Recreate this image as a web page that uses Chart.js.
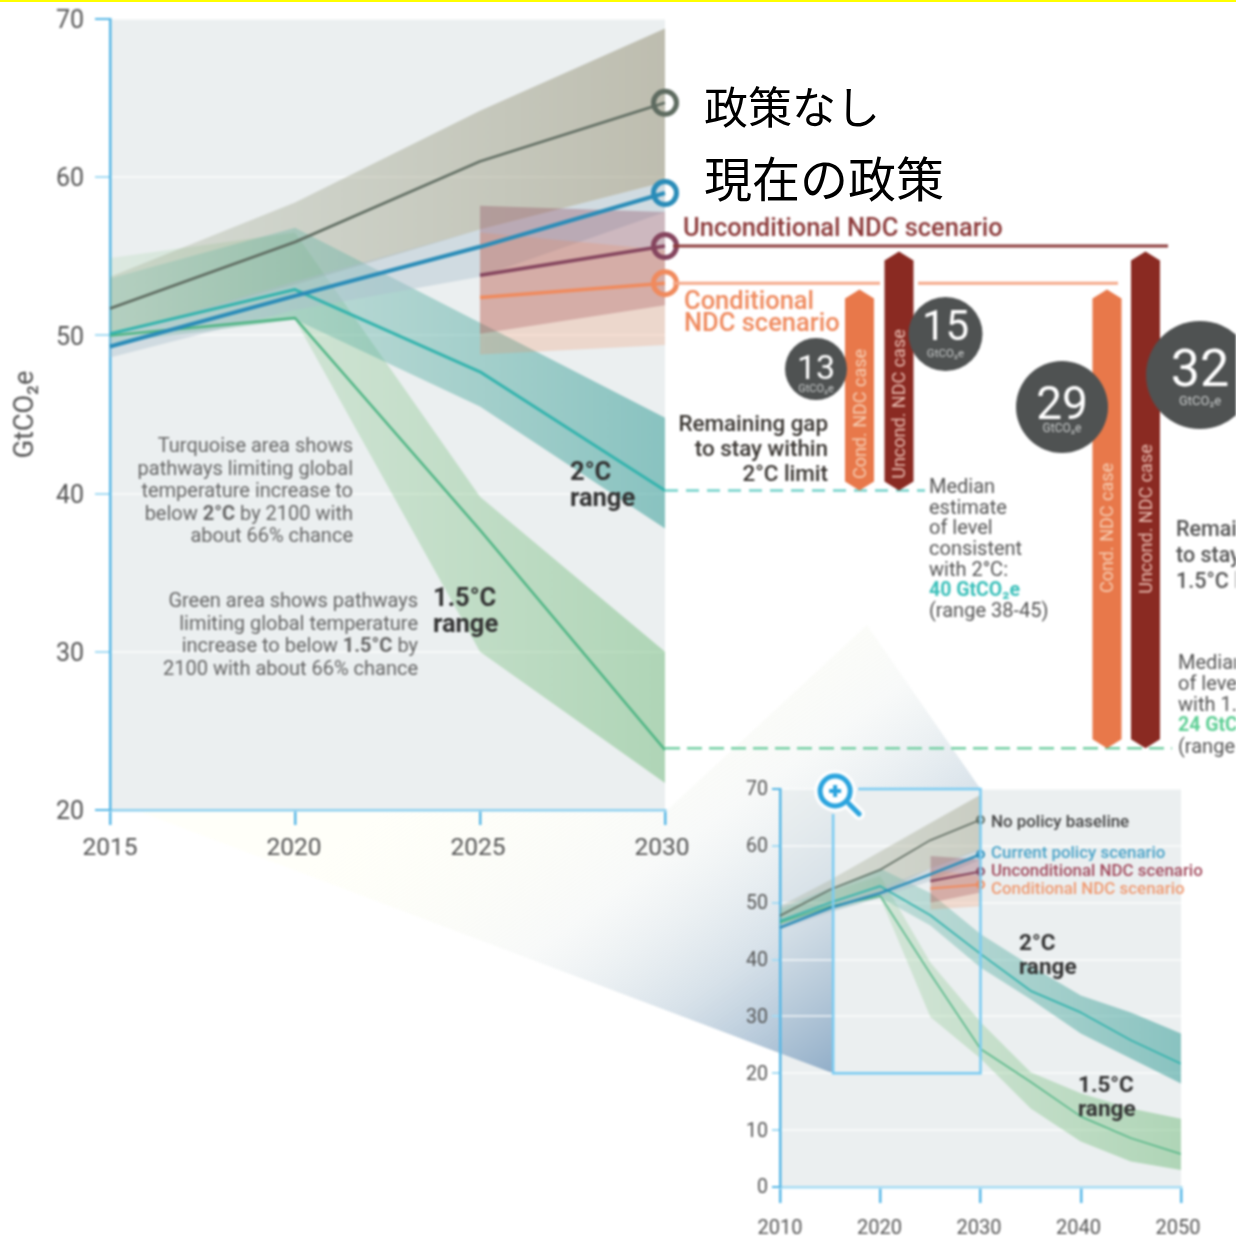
<!DOCTYPE html>
<html lang="en"><head><meta charset="utf-8">
<style>
html,body{margin:0;padding:0;background:#fff;width:1236px;height:1239px;overflow:hidden}
#stage{position:absolute;left:0;top:0;width:1236px;height:1239px;overflow:hidden;filter:blur(.95px);font-family:Roboto,sans-serif}
canvas{position:absolute;left:0;top:0}
.t{position:absolute;white-space:nowrap;line-height:1}
#topline{position:absolute;left:0;top:0;width:1236px;height:2px;background:#ffff00}
.jp{position:absolute;left:704px;white-space:nowrap;font-family:"Noto Sans CJK JP";color:#000;line-height:1;transform:translateY(-50%)}
</style>
<script src="https://cdn.jsdelivr.net/npm/chart.js@4/dist/chart.umd.min.js"></script>
</head><body>
<div id="stage">
<canvas id="inset" width="1236" height="1239"></canvas>
<canvas id="main" width="1236" height="1239"></canvas>
</div>
<div id="topline"></div>
<div class="jp" style="top:105px;font-size:44px">政策なし</div>
<div class="jp" style="top:176px;font-size:48px">現在の政策</div>
<script>
// ---------- main (zoomed) panel ----------
const mainYears=[2015,2020,2025,2030];
const ndcYears=[2025,2030];
const mainNoPolicy=[51.7,55.9,61,64.7];
const mainNoPolicyHi=[53.7,58.4,64.2,69.4];
const mainNoPolicyLo=[50,53.2,56.7,59.7];
const mainCurrent=[49.3,52.5,55.6,59];
const mainCurrentHi=[50,53.4,56.7,59.7];
const mainCurrentLo=[48.6,51.6,53.7,57.8];
const mainTeal=[50.1,52.9,47.7,40.2];
const mainTealHi=[53.6,56.8,50.8,44.8];
const mainTealLo=[49.5,51,45.5,37.8];
const mainGreen=[50,51.1,37.7,23.8];
const mainGreenHi=[54.9,56.5,39.8,30];
const mainGreenLo=[49.5,51,30,21.7];
const mainUncond=[53.8,55.65];
const mainUncondHi=[58.2,57.8];
const mainUncondLo=[50.1,51.9];
const mainCond=[52.4,53.3];
const mainCondHi=[56.5,55.4];
const mainCondLo=[48.8,49.4];
// ---------- gap annotations (GtCO2e levels) ----------
const level2C=40.2, level15C=23.9;
const barTopCond=52.9, barTopUncond=55.3;
// ---------- inset (full range) panel ----------
const insetYearsA=[2010,2015,2020,2025,2030];
const insetYearsB=[2010,2015,2020,2025,2030,2035,2040,2045,2050];
const insetNoPolicy=[47.7,52.3,55.8,61,64.6];
const insetNoPolicyHi=[49.4,54,59,64,69];
const insetNoPolicyLo=[46,49,51.5,56,59.3];
const insetCurrent=[45.6,49.1,51.7,55,58.5];
const insetCurrentHi=[46.2,49.8,52.6,56,59.6];
const insetCurrentLo=[45.2,48.3,50.9,53.8,57.6];
const insetTeal=[46.8,50,52.9,47.8,41,34.5,30.7,25.8,21.7];
const insetTealHi=[49,52.6,56,51.7,44.5,38.9,33.7,30.7,27];
const insetTealLo=[46,48.6,50.9,46,38.6,33,27,22.6,18.2];
const insetGreen=[46.5,49.4,51.2,37.5,24.3,18.5,12.4,8.6,5.8];
const insetGreenHi=[48.5,52,54.7,39.5,29,20.2,16.5,13.8,12];
const insetGreenLo=[46,48.6,50.9,29.9,22.6,13.8,8,4.5,3];
const insetUncond=[53.8,55.5];
const insetUncondHi=[58.2,57.6];
const insetUncondLo=[50,51.8];
const insetCond=[52.5,53.2];
const insetCondHi=[55.8,54.7];
const insetCondLo=[48.8,49.4];

const BLUE='#57b7e6', BLUE2='#a5dbf3', PLOT='#ebeff0', TICKTXT='#555';
const toXY=(xs,ys)=>xs.map((x,i)=>({x,y:ys[i]}));
function grad(c0,c1){return (ctx)=>{
  const ch=ctx.chart,s=ch.scales&&ch.scales.x;
  if(!s||!isFinite(s.left)||s.width<=0) return c1;
  const g=ch.ctx.createLinearGradient(s.left,0,s.right,0);
  g.addColorStop(0,c0);g.addColorStop(1,c1);return g;};}
function band(xs,hi,lo,color,order){return [
  {data:toXY(xs,hi),borderWidth:0,pointRadius:0,fill:'+1',backgroundColor:color,order},
  {data:toXY(xs,lo),borderWidth:0,pointRadius:0,fill:false,order}];}
function line(xs,ys,color,w,r,bw,order){const n=xs.length-1;return {
  data:toXY(xs,ys),borderColor:color,borderWidth:w,fill:false,clip:false,order,
  pointRadius:c=>c.dataIndex===n?r:0,pointBorderWidth:bw,pointBorderColor:color,
  pointBackgroundColor:'rgba(255,255,255,0)',pointHoverRadius:0};}
const plain=(xs,ys,color,w,order)=>({data:toXY(xs,ys),borderColor:color,borderWidth:w,pointRadius:0,fill:false,order});

const C={
 gray:grad('rgba(150,160,130,.25)','rgba(150,145,118,.53)'),
 blue:'rgba(172,190,205,.42)',
 teal:grad('rgba(110,185,165,.24)','rgba(60,160,155,.56)'),
 green:grad('rgba(130,195,130,.14)','rgba(110,185,120,.48)'),
 unc:'rgba(135,55,80,.30)', con:'rgba(238,140,90,.24)'
};
function datasets(d,r,bw,k){return [
 ...band(d.xb,d.gH,d.gL,C.green,40),
 ...band(d.xa,d.nH,d.nL,C.gray,38),
 ...band(d.xb,d.tH,d.tL,C.teal,36),
 ...band(d.xa,d.cH,d.cL,C.blue,34),
 ...band(ndcYears,d.uH,d.uL,C.unc,32),
 ...band(ndcYears,d.oH,d.oL,C.con,30),
 plain(d.xb,d.g,'#4db483',2.5*k,10),
 line(d.xa,d.n,'#5e6b60',2.6*k,r,bw,9),
 plain(d.xb,d.t,'#33b3ad',3*k,8),
 line(d.xa,d.c,'#2a8cb8',4*k,r,bw,7),
 line(ndcYears,d.u,'#85455e',3.5*k,r,bw,6),
 line(ndcYears,d.o,'#f08a5d',3.5*k,r,bw,5)];}

const plotBg={id:'plotBg',beforeDraw(ch,a,o){const A=ch.chartArea,c=ch.ctx;
  c.save();c.fillStyle=PLOT;c.fillRect(A.left,A.top,A.width,A.height);c.restore();
  if(o.wedge) o.wedge(ch);
  // optical alignment of the tick labels
  ch.scales.y.getLabelItems(A).forEach(it=>{if(!it._nudged){it.textOffset+=o.nudge;it._nudged=true;}});
  ch.scales.x.getLabelItems(A).forEach((it,i)=>{if(!it._nudged){it.options.translation[0]-=i*o.xShift;it._nudged=true;}});}};

function wedge(ch){const c=ch.ctx;const y=ch.scales.y,x=ch.scales.x;
  const bx=x.getPixelForValue(2015.3),by=y.getPixelForValue(20),tx=x.getPixelForValue(2030),ty=y.getPixelForValue(70);
  const g=c.createLinearGradient(582,668,862,1053);
  g.addColorStop(0,'rgba(255,255,232,.25)');g.addColorStop(.42,'rgba(241,244,243,.5)');
  g.addColorStop(.7,'rgba(205,218,228,.8)');g.addColorStop(1,'rgba(140,170,198,.95)');
  c.save();c.beginPath();c.moveTo(bx,by);c.lineTo(140,812);c.lineTo(665,812);c.lineTo(867,625);c.lineTo(tx,ty);c.lineTo(bx,ty);c.closePath();
  c.fillStyle=g;c.fill();c.restore();}

const zoomBox={id:'zoomBox',afterDraw(ch){const c=ch.ctx,x=ch.scales.x,y=ch.scales.y;
  const l=x.getPixelForValue(2015.3),r=x.getPixelForValue(2030),t=y.getPixelForValue(70),b=y.getPixelForValue(20);
  c.save();c.strokeStyle='#79cbf2';c.lineWidth=2.5;c.beginPath();
  c.moveTo(l,t+25);c.lineTo(l,b);c.lineTo(r,b);c.lineTo(r,t);c.lineTo(l+25,t);c.stroke();
  const cx=l+2,cy=t+2;
  c.strokeStyle='rgba(255,255,255,.9)';c.lineCap='round';c.lineWidth=12;
  c.beginPath();c.arc(cx,cy,15,0,7);c.stroke();c.beginPath();c.moveTo(cx+14,cy+13);c.lineTo(cx+24,cy+23);c.stroke();
  c.fillStyle='#fff';c.beginPath();c.arc(cx,cy,15,0,7);c.fill();
  c.strokeStyle='#2ba4de';c.lineWidth=5;c.beginPath();c.arc(cx,cy,15,0,7);c.stroke();
  c.beginPath();c.moveTo(cx+14,cy+13);c.lineTo(cx+24,cy+23);c.stroke();
  c.lineWidth=4;c.lineCap='butt';c.beginPath();c.moveTo(cx-6,cy);c.lineTo(cx+6,cy);c.moveTo(cx,cy-6);c.lineTo(cx,cy+6);c.stroke();
  c.restore();}};

const hex=(c,cx,hw,top,bot,col)=>{c.fillStyle=col;c.beginPath();c.moveTo(cx,top);c.lineTo(cx+hw,top+9);c.lineTo(cx+hw,bot-9);c.lineTo(cx,bot);c.lineTo(cx-hw,bot-9);c.lineTo(cx-hw,top+9);c.closePath();c.fill();};
const hl=(c,x0,x1,yp,col,w,dash)=>{c.strokeStyle=col;c.lineWidth=w;c.setLineDash(dash||[]);c.beginPath();c.moveTo(x0,yp);c.lineTo(x1,yp);c.stroke();c.setLineDash([]);};
const disc=(c,x,y,r)=>{c.fillStyle='#4f5252';c.beginPath();c.arc(x,y,r,0,7);c.fill();};
const gapArt={id:'gapArt',afterDraw(ch){const c=ch.ctx,y=ch.scales.y,R=ch.chartArea.right;
  const yU=y.getPixelForValue(mainUncond[1]),yC=y.getPixelForValue(mainCond[1]),y2=y.getPixelForValue(level2C),y15=y.getPixelForValue(level15C);
  const tU=y.getPixelForValue(barTopUncond),tC=y.getPixelForValue(barTopCond);
  c.save();
  hl(c,R+8,1168,yU,'#8c3b3b',3);
  hl(c,R+8,880,yC,'#f5a98a',3);hl(c,918,1118,yC,'#f5a98a',3);
  hl(c,R,925,y2,'#72d2ca',2.5,[13,8]);
  hl(c,R,1172,y15,'#74cfa3',2.5,[15,7]);
  hex(c,859.5,14.5,tC,y2,'#e8784a');hex(c,899,14.5,tU,y2,'#8a2a22');
  hex(c,1107,14.5,tC,y15,'#e8784a');hex(c,1145.5,14.5,tU,y15,'#8a2a22');
  disc(c,816,369,31);disc(c,945.5,334,37);disc(c,1062,407,46);disc(c,1200,375,54);
  c.restore();}};

function common(opts){return {responsive:false,animation:false,devicePixelRatio:1,
  events:[],layout:{padding:opts.pad},
  plugins:{legend:{display:false},tooltip:{enabled:false},plotBg:{wedge:opts.wedge,nudge:opts.nudge,xShift:opts.xShift}},
  elements:{line:{tension:0,borderCapStyle:'butt',borderJoinStyle:'round'}},
  scales:{
   x:{type:'linear',min:opts.xmin,max:opts.xmax,afterFit:s=>{s.height=opts.xh;s.paddingLeft=0;s.paddingRight=0;},
      border:{color:opts.xBorder,width:2.5},
      grid:{drawOnChartArea:false,color:opts.xTick,tickColor:opts.xTick,tickLength:opts.xLen,lineWidth:2.5},
      ticks:{stepSize:opts.xStep,autoSkip:false,maxRotation:0,minRotation:0,padding:opts.xPad,color:TICKTXT,font:{family:'Roboto',size:opts.xFont},callback:v=>String(v)}},
   y:{type:'linear',min:opts.ymin,max:70,afterFit:s=>{s.width=opts.yw;s.paddingTop=0;s.paddingBottom=0;},
      title:opts.title||{display:false},
      border:{color:BLUE,width:2.5},
      grid:{color:c=>(c.tick&&(c.tick.value===opts.ymin))?'rgba(0,0,0,0)':'rgba(255,255,255,.6)',lineWidth:2,tickLength:opts.yLen,
            tickColor:c=>(c.tick.value===70||c.tick.value===opts.ymin)?BLUE:BLUE2},
      ticks:{stepSize:10,padding:opts.yPad,color:TICKTXT,font:{family:'Roboto',size:opts.yFont},callback:v=>String(v)}}
  }};}

new Chart(document.getElementById('inset'),{type:'line',
 data:{datasets:datasets({xa:insetYearsA,xb:insetYearsB,n:insetNoPolicy,nH:insetNoPolicyHi,nL:insetNoPolicyLo,
   c:insetCurrent,cH:insetCurrentHi,cL:insetCurrentLo,t:insetTeal,tH:insetTealHi,tL:insetTealLo,
   g:insetGreen,gH:insetGreenHi,gL:insetGreenLo,u:insetUncond,uH:insetUncondHi,uL:insetUncondLo,
   o:insetCond,oH:insetCondHi,oL:insetCondLo},3.5,2,.6)},
 options:common({pad:{left:0,top:789,right:55,bottom:0},xmin:2010,xmax:2050,xStep:10,xh:52,xLen:16,xPad:14,xFont:20,
   xBorder:BLUE2,xTick:BLUE,yw:780,yLen:8,yPad:4,yFont:19.5,ymin:0,nudge:1.5,xShift:.75,wedge}),
 plugins:[plotBg,zoomBox]});

new Chart(document.getElementById('main'),{type:'line',
 data:{datasets:datasets({xa:mainYears,xb:mainYears,n:mainNoPolicy,nH:mainNoPolicyHi,nL:mainNoPolicyLo,
   c:mainCurrent,cH:mainCurrentHi,cL:mainCurrentLo,t:mainTeal,tH:mainTealHi,tL:mainTealLo,
   g:mainGreen,gH:mainGreenHi,gL:mainGreenLo,u:mainUncond,uH:mainUncondHi,uL:mainUncondLo,
   o:mainCond,oH:mainCondHi,oL:mainCondLo},11.5,5,1)},
 options:common({pad:{left:0,top:19,right:571,bottom:0},xmin:2015,xmax:2030,xStep:5,xh:429,xLen:15,xPad:9,xFont:24.5,
   xBorder:'#8fd0ee',xTick:BLUE,yw:110,yLen:15,yPad:11,yFont:25,ymin:20,nudge:3,xShift:1,
   title:{display:true,text:'GtCO₂e',color:'#555',font:{family:'Roboto',size:27},padding:{top:10,bottom:0}}}),
 plugins:[plotBg,gapArt]});

// ---------- annotation text ----------
const B=s=>`<b>${s}</b>`;
const texts=[
 [683,228,'Unconditional NDC scenario',25.5,500,'#8c3a3a'],
 [684,301,'Conditional',25.5,500,'#ef8a5e'],[684,323,'NDC scenario',25.5,500,'#ef8a5e'],
 [828,423,'Remaining gap',22.4,500,'#3a3632','r'],[828,448,'to stay within',22.4,500,'#3a3632','r'],[828,473,'2°C limit',22.4,500,'#3a3632','r'],
 [929,486,'Median',20,400,'#555'],[929,507,'estimate',20,400,'#555'],[929,527,'of level',20,400,'#555'],[929,548,'consistent',20,400,'#555'],[929,569,'with 2°C:',20,400,'#555'],
 [929,590,'40 GtCO₂e',19.5,700,'#3cc0ba'],[929,610,'(range 38-45)',20,400,'#555'],
 [1176,529,'Remaining gap',21.5,500,'#555'],[1176,555,'to stay within',21.5,500,'#555'],[1176,581,'1.5°C limit',21.5,500,'#555'],
 [1178,662,'Median estimate',20,400,'#555'],[1178,683,'of level consistent',20,400,'#555'],[1178,704,'with 1.5°C:',20,400,'#555'],
 [1178,725,'24 GtCO₂e',19.5,700,'#5fcf95'],[1178,746,'(range 18-27)',20,400,'#555'],
 [353,445,'Turquoise area shows',20,400,'#666','r'],[353,468,'pathways limiting global',20,400,'#666','r'],[353,490,'temperature increase to',20,400,'#666','r'],
 [353,513,'below '+B('2°C')+' by 2100 with',20,400,'#666','r'],[353,535,'about 66% chance',20,400,'#666','r'],
 [418,600,'Green area shows pathways',20,400,'#666','r'],[418,623,'limiting global temperature',20,400,'#666','r'],
 [418,645,'increase to below '+B('1.5°C')+' by',20,400,'#666','r'],[418,668,'2100 with about 66% chance',20,400,'#666','r'],
 [433,598,'1.5°C',25.5,700,'#333'],[433,624,'range',25.5,700,'#333'],
 [570,472,'2°C',25.5,700,'#333'],[570,498,'range',25.5,700,'#333'],
 [991,821,'No policy baseline',16.9,500,'#444'],[991,852,'Current policy scenario',16.9,500,'#4aa3c8'],
 [991,870,'Unconditional NDC scenario',16.9,500,'#a24b5e'],[991,888,'Conditional NDC scenario',16.9,500,'#ef9a72'],
 [1019,942,'2°C',22.5,700,'#333'],[1019,966,'range',22.5,700,'#333'],
 [1078,1084,'1.5°C',22.5,700,'#333'],[1078,1108,'range',22.5,700,'#333'],
 [816,367,'13',34,400,'#fff','c'],[816,388,'GtCO₂e',11,400,'#c9cccc','c'],
 [945.5,326,'15',42,400,'#fff','c'],[945.5,354,'GtCO₂e',11.5,400,'#c9cccc','c'],
 [1062,403,'29',46,400,'#fff','c'],[1062,428,'GtCO₂e',12,400,'#c9cccc','c'],
 [1200,369,'32',52,400,'#fff','c'],[1200,400,'GtCO₂e',13,400,'#c9cccc','c'],
 [859.5,414,'Cond. NDC case',18,400,'#f6cdb2','v'],[899,404,'Uncond. NDC case',18,400,'#e6b9ae','v'],
 [1107,528,'Cond. NDC case',18,400,'#f6cdb2','v'],[1146,519,'Uncond. NDC case',18,400,'#e6b9ae','v']
];
const stage=document.getElementById('stage');
texts.forEach(([x,y,s,size,w,col,al])=>{const d=document.createElement('div');d.className='t';d.innerHTML=s;
  d.style.cssText=`left:${x}px;top:${y}px;font-size:${size}px;font-weight:${w};color:${col};`+
   (al==='r'?'transform:translate(-100%,-50%);':al==='c'?'transform:translate(-50%,-50%);':al==='v'?'transform:translate(-50%,-50%) rotate(-90deg);':'transform:translateY(-50%);');
  stage.appendChild(d);});
</script>
</body></html>
